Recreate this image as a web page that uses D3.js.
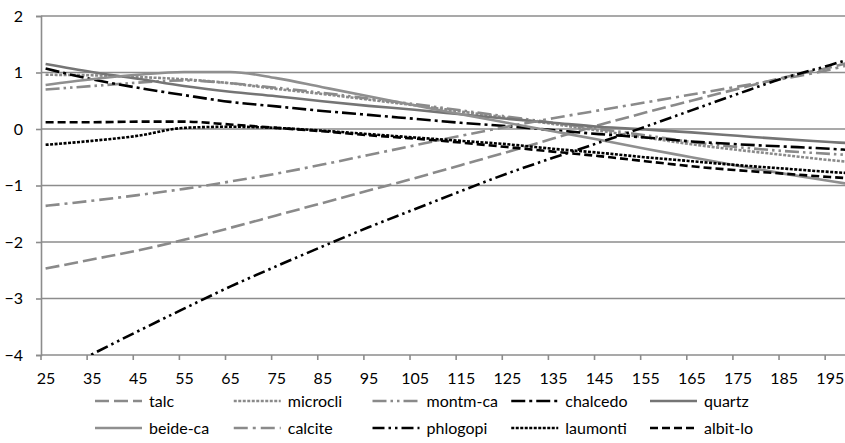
<!DOCTYPE html>
<html>
<head>
<meta charset="utf-8">
<script src="https://cdn.jsdelivr.net/npm/d3@7"></script>
<style>
  html, body { margin: 0; padding: 0; background: #fff; width: 845px; height: 443px; }
  svg { display: block; font-family: Lato, "Open Sans", sans-serif; }
</style>
</head>
<body>
<svg id="chart"></svg>
<script>
const width = 845;
const height = 443;
const margin = { left: 41, right: 0, top: 16, bottom: 88 };

// temperatures (x categories)
const temps = [25, 35, 45, 55, 65, 75, 85, 95, 105, 115, 125, 135, 145, 155, 165, 175, 185, 195, 199];
const xTicks = [25, 35, 45, 55, 65, 75, 85, 95, 105, 115, 125, 135, 145, 155, 165, 175, 185, 195];
const yTicks = [-4, -3, -2, -1, 0, 1, 2];

const talc     = [-2.47, -2.31, -2.15, -1.96, -1.75, -1.53, -1.31, -1.09, -0.87, -0.64, -0.41, -0.17, 0.07, 0.29, 0.50, 0.71, 0.91, 1.09, 1.17];
const microcli = [0.96, 0.95, 0.92, 0.88, 0.81, 0.71, 0.62, 0.52, 0.42, 0.31, 0.20, 0.09, -0.03, -0.15, -0.27, -0.37, -0.46, -0.55, -0.58];
const montmCa  = [0.70, 0.76, 0.82, 0.86, 0.81, 0.73, 0.64, 0.54, 0.44, 0.33, 0.22, 0.11, 0.00, -0.11, -0.23, -0.32, -0.39, -0.44, -0.46];
const chalcedo = [1.07, 0.88, 0.73, 0.60, 0.48, 0.40, 0.32, 0.25, 0.18, 0.11, 0.05, -0.02, -0.09, -0.15, -0.22, -0.27, -0.31, -0.35, -0.37];
const quartz   = [1.15, 1.01, 0.89, 0.76, 0.66, 0.58, 0.49, 0.41, 0.34, 0.26, 0.18, 0.11, 0.04, -0.01, -0.06, -0.12, -0.18, -0.23, -0.25];
const beideCa  = [0.78, 0.88, 0.96, 1.01, 1.01, 0.90, 0.74, 0.58, 0.42, 0.26, 0.11, -0.04, -0.19, -0.35, -0.50, -0.65, -0.79, -0.92, -0.97];
const calcite  = [-1.36, -1.27, -1.17, -1.06, -0.93, -0.79, -0.63, -0.46, -0.29, -0.12, 0.04, 0.19, 0.33, 0.47, 0.61, 0.75, 0.89, 1.05, 1.13];
const phlogopi = [-4.42, -3.99, -3.58, -3.18, -2.79, -2.43, -2.08, -1.74, -1.42, -1.10, -0.79, -0.51, -0.24, 0.04, 0.33, 0.62, 0.90, 1.13, 1.23];
const laumonti = [-0.28, -0.21, -0.12, 0.02, 0.04, 0.02, -0.03, -0.09, -0.15, -0.21, -0.27, -0.35, -0.42, -0.50, -0.57, -0.64, -0.70, -0.76, -0.78];
const albitLo  = [0.12, 0.12, 0.13, 0.13, 0.08, 0.02, -0.04, -0.11, -0.17, -0.24, -0.32, -0.40, -0.48, -0.57, -0.66, -0.73, -0.79, -0.85, -0.87];

const series = [
  { name: "talc",     values: talc,     color: "#8a8a8a", dash: "14,5" },
  { name: "microcli", values: microcli, color: "#8a8a8a", dash: "3,1.5" },
  { name: "montm-ca", values: montmCa,  color: "#8a8a8a", dash: "14,4,2.5,4,2.5,4" },
  { name: "chalcedo", values: chalcedo, color: "#000000", dash: "14,4,3,4" },
  { name: "quartz",   values: quartz,   color: "#757575", dash: null },
  { name: "beide-ca", values: beideCa,  color: "#8f8f8f", dash: null },
  { name: "calcite",  values: calcite,  color: "#8a8a8a", dash: "14,5,3,5" },
  { name: "phlogopi", values: phlogopi, color: "#000000", dash: "12,4,2.5,4,2.5,4" },
  { name: "laumonti", values: laumonti, color: "#000000", dash: "3,1.5" },
  { name: "albit-lo", values: albitLo,  color: "#000000", dash: "8,4" }
];

const innerWidth  = width  - margin.left - margin.right;
const innerHeight = height - margin.top  - margin.bottom;

const svg = d3.select("#chart")
  .attr("width", width)
  .attr("height", height)
  .attr("viewBox", `0 0 ${width} ${height}`);

const g = svg.append("g")
  .attr("transform", `translate(${margin.left},${margin.top})`);

// category axis: tick marks sit on the boundary one unit left of each label
const x = d3.scaleLinear().domain([24, 198.3]).range([0, innerWidth]);
const y = d3.scaleLinear().domain([-4, 2]).range([innerHeight, 0]);

const gridColor = "#8c8c8c";

// gridlines
g.append("g")
  .selectAll("line")
  .data(yTicks)
  .join("line")
  .attr("x1", 0)
  .attr("x2", innerWidth)
  .attr("y1", d => y(d))
  .attr("y2", d => y(d))
  .attr("stroke", gridColor)
  .attr("stroke-width", 1.6);

// y axis
const yAxis = g.append("g")
  .call(d3.axisLeft(y).tickValues(yTicks).tickSize(5).tickPadding(13).tickFormat(d3.format("d")));
yAxis.select(".domain").attr("stroke", gridColor).attr("stroke-width", 1.6);
yAxis.selectAll(".tick line").attr("stroke", gridColor).attr("stroke-width", 1.6);
yAxis.selectAll("text")
  .attr("font-size", 16)
  .attr("fill", "#000")
  .attr("font-family", "Lato, 'Open Sans', sans-serif");

// x axis tick marks (boundaries)
g.append("g")
  .selectAll("line")
  .data(xTicks)
  .join("line")
  .attr("x1", d => x(d - 1))
  .attr("x2", d => x(d - 1))
  .attr("y1", innerHeight)
  .attr("y2", innerHeight + 5)
  .attr("stroke", gridColor)
  .attr("stroke-width", 1.6);

// x axis labels
const xAxis = g.append("g")
  .attr("transform", `translate(0,${innerHeight})`)
  .call(d3.axisBottom(x).tickValues(xTicks).tickSize(0).tickPadding(18).tickFormat(d3.format("d")));
xAxis.select(".domain").remove();
xAxis.selectAll("text")
  .attr("font-size", 16)
  .attr("fill", "#000")
  .attr("font-family", "Lato, 'Open Sans', sans-serif");

// lines
svg.append("defs").append("clipPath").attr("id", "plot-clip")
  .append("rect")
  .attr("x", -2)
  .attr("y", -2)
  .attr("width", innerWidth + 4)
  .attr("height", innerHeight + 2);

const line = d3.line()
  .x((d, i) => x(temps[i]))
  .y(d => y(d))
  .curve(d3.curveMonotoneX);

g.append("g")
  .attr("clip-path", "url(#plot-clip)")
  .selectAll("path")
  .data(series)
  .join("path")
  .attr("d", d => line(d.values))
  .attr("fill", "none")
  .attr("stroke", d => d.color)
  .attr("stroke-width", 2.6)
  .attr("stroke-dasharray", d => d.dash);

// legend
const legendCols = 5;
const colWidth = 138.75;
const legend = svg.append("g").attr("transform", "translate(95,0)");

const item = legend.selectAll("g")
  .data(series)
  .join("g")
  .attr("transform", (d, i) => `translate(${(i % legendCols) * colWidth},${i < legendCols ? 401 : 428})`);

item.append("line")
  .attr("x1", 0)
  .attr("x2", 47)
  .attr("stroke", d => d.color)
  .attr("stroke-width", 2.6)
  .attr("stroke-dasharray", d => d.dash);

item.append("text")
  .attr("x", 54)
  .attr("y", 6)
  .attr("font-size", 16)
  .text(d => d.name);
</script>
</body>
</html>
